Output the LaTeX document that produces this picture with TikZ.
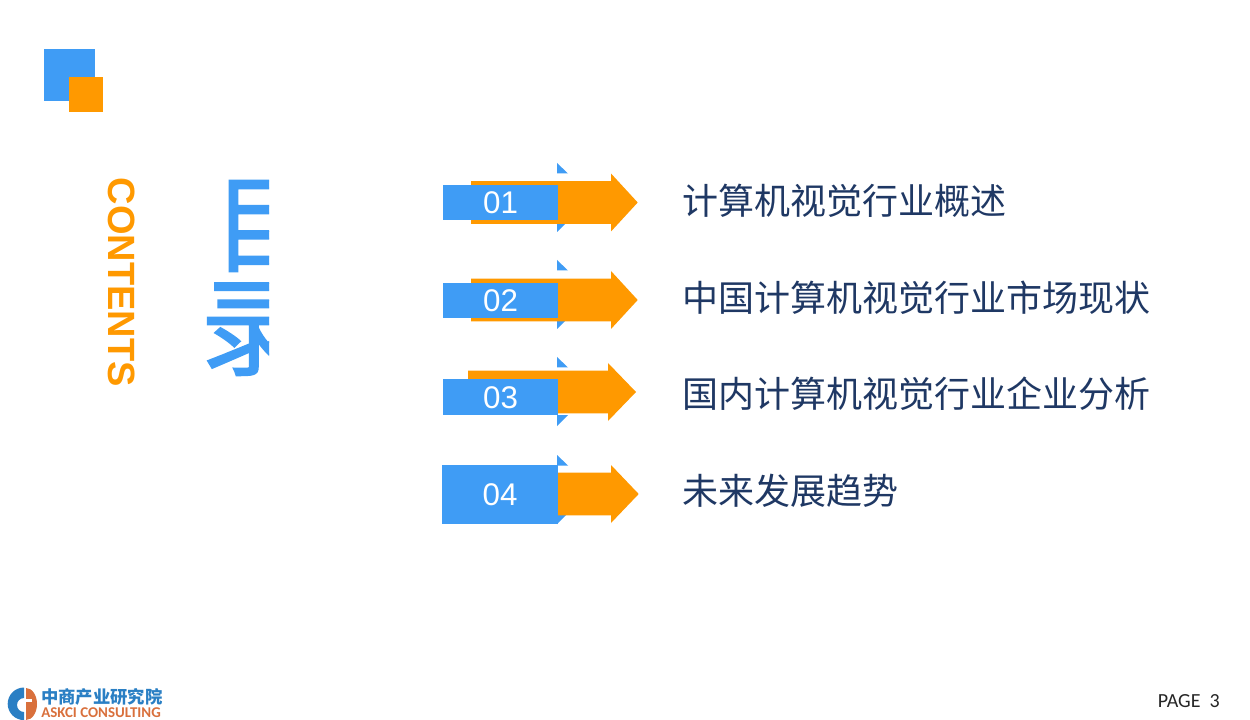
\documentclass[tikz,border=0pt]{standalone}
\usepackage{fontspec}
\setmainfont{Liberation Sans}
\newfontfamily\cjk{Noto Sans CJK SC}
\newfontfamily\cjkbig[FakeBold=1.6]{Noto Sans CJK SC}
\newfontfamily\pagefont{Carlito}
\usetikzlibrary{positioning}
\definecolor{blueM}{HTML}{3F9CF5}
\definecolor{orangeM}{HTML}{FF9900}
\definecolor{navyM}{HTML}{1F3864}
\definecolor{logoblue}{HTML}{2A7FC4}
\definecolor{logoorange}{HTML}{D9703C}
\tikzset{
    numbox/.style={fill=blueM,text=white,inner sep=0pt,outer sep=0pt,font=\fontsize{23.5}{24}\selectfont,anchor=north west},
    titletext/.style={text=navyM,inner sep=0pt,anchor=west,font=\cjk\fontsize{27}{28}\selectfont},
    bigtext/.style={text=blueM,inner sep=0pt,font=\cjkbig\fontsize{80}{81}\selectfont}
}

\begin{document}
\begin{tikzpicture}[x=0.75pt,y=-0.75pt]
    \useasboundingbox[fill=white] (0,0) rectangle (1250,720);

    % corner squares
    \fill[blueM] (44,49) rectangle (95,101);
    \fill[orangeM] (69,77) rectangle (103,112);

    % side title
    \node (contents) [rotate=-90,text=orangeM,inner sep=0pt,font=\bfseries\fontsize{28.5}{29}\selectfont] at (121.5,282.5) {CONTENTS};
    \begin{scope}
        \clip (150,150) rectangle (269,400);
        \node (mu) [bigtext] at (266,226) {目};
        \node (lu) [bigtext] at (254,329) {录};
    \end{scope}

    % rows
    \foreach \i/\num/\txt/\xa/\xh/\xt/\ym/\tt/\tb/\ba/\bb/\bx/\ty in {
        1/01/计算机视觉行业概述/471/611/637.7/202.5/163/232/185/219.7/443/201,
        2/02/中国计算机视觉行业市场现状/471/611/637.7/300/260/329/283/317.7/443/298,
        3/03/国内计算机视觉行业企业分析/468/608/636/392/357/426/379/414.7/443/394,
        4/04/未来发展趋势/558/611/638.7/494/455/524/465/523.7/442/491}{
        % small corners
        \fill[blueM] (557,\tt) -- (557,\tt+10.5) -- (568,\tt+10.5) -- cycle;
        \fill[blueM] (557,\tb) -- (557,\tb-11) -- (568,\tb-11) -- cycle;
        % arrow
        \fill[orangeM] (\xa,\ym-21.3) -- (\xh,\ym-21.3) -- (\xh,\ym-29) -- (\xt,\ym)
            -- (\xh,\ym+29) -- (\xh,\ym+21.3) -- (\xa,\ym+21.3) -- cycle;
        \pgfmathsetmacro{\bw}{(558-\bx)*0.75}
        \pgfmathsetmacro{\bh}{(\bb-\ba)*0.75}
        \node (box\i) [numbox,minimum width=\bw pt,minimum height=\bh pt,text depth=0pt] at (\bx,\ba) {\raisebox{-0.5pt}{\num}};
        \node (title\i) [titletext] at (682.5,\ty) {\txt};
    }

    % logo
    \fill[logoblue] (24,687.5) arc (-90:-270:16.3) -- (24,712) arc (90:270:7) -- cycle;
    \fill[logoorange] (26,688) arc (-90:90:11 and 16) -- cycle;
    \fill[white] (26,699) rectangle (32,701.5);
    \node (logocn) [text=logoblue,inner sep=0pt,anchor=west,font=\cjk\bfseries\fontsize{13}{14}\selectfont] at (41,697) {中商产业研究院};
    \node (logoen) [below=0pt of logocn.south west,anchor=north west,yshift=-1.2pt,text=logoorange,inner sep=0pt,font=\pagefont\bfseries\fontsize{11.2}{12}\selectfont] {ASKCI CONSULTING};

    \node (page) [inner sep=0pt,anchor=east,text=black!85,font=\pagefont\fontsize{15}{16}\selectfont] at (1220,701) {PAGE\ \ 3};
\end{tikzpicture}
\end{document}
